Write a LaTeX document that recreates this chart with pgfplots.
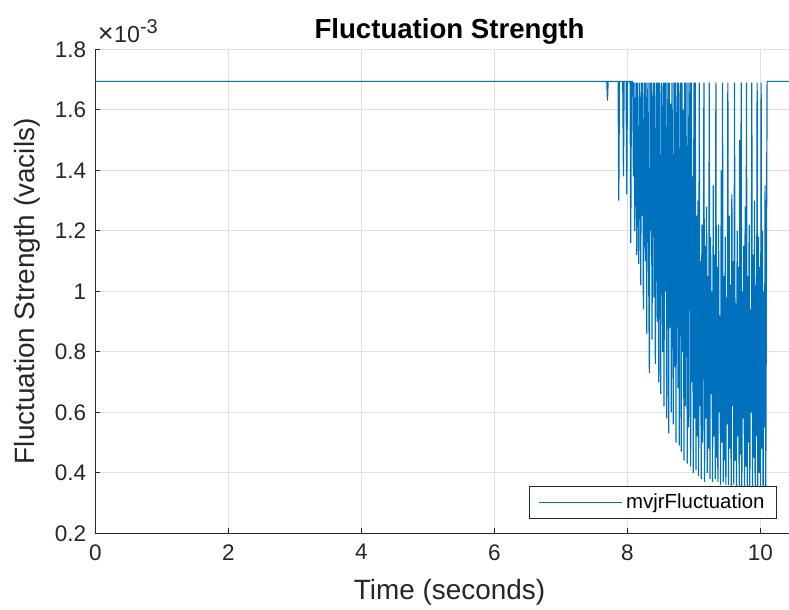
\documentclass[border=0pt]{standalone}
\usepackage{fontspec}
\setmainfont{Liberation Sans}
\usepackage{pgfplots}
\pgfplotsset{compat=1.18}
\definecolor{mblue}{RGB}{0,114,189}
\definecolor{axisgray}{RGB}{38,38,38}
\definecolor{gridc}{RGB}{223,223,223}
\begin{document}
\begin{tikzpicture}
\useasboundingbox (0,0) rectangle (394.5pt,305pt);
\begin{axis}[
  at={(47.65pt,38.35pt)}, anchor=south west,
  scale only axis, width=354.2pt, height=242pt,
  xmin=0, xmax=10.65, ymin=0.2, ymax=1.8,
  clip mode=individual,
  xtick={0,2,4,6,8,10},
  ytick={0.2,0.4,0.6,0.8,1,1.2,1.4,1.6,1.8},
  axis x line*=bottom, axis y line*=left,
  axis line style={-, color=axisgray, line width=0.5pt},
  tick align=inside, major tick length=2.5pt,
  tick style={color=axisgray, line width=0.5pt},
  grid=major, major grid style={color=gridc, line width=0.5pt},
  /pgf/number format/assume math mode=true,
  ticklabel style={font=\fontsize{11.25}{13}\selectfont, text=axisgray},
  xticklabel style={yshift=-2pt},
  yticklabel style={xshift=-1pt},
  title={\textbf{Fluctuation Strength}},
  every axis title/.style={at={(axis description cs:0.5,1)}, anchor=base, yshift=5.5pt, font=\fontsize{13.8}{16}\selectfont},
  xlabel={Time (seconds)},
  xlabel style={at={(axis description cs:0.5,-0.1378)}, anchor=base, font=\fontsize{13.95}{16}\selectfont, text=axisgray},
  ylabel={Fluctuation Strength (vacils)},
  ylabel style={at={(axis description cs:-0.096,0.5)}, anchor=center, font=\fontsize{13.95}{16}\selectfont, text=axisgray},
  legend style={at={(axis description cs:0.9623,0.0295)}, anchor=south east, draw=axisgray, fill=white, line width=0.5pt,
    font=\fontsize{10.2}{12}\selectfont, inner xsep=4pt, inner ysep=1.5pt},
  legend cell align=left,
  legend image code/.code={\draw[#1] (0pt,0pt) -- (41.5pt,0pt);},
]
\addplot[color=mblue, line width=0.6pt] coordinates {
(0,1.694) (7.69,1.694) (7.70,1.63) (7.71,1.694) (7.86,1.694) (7.87,1.30) (7.88,1.694)
(7.93,1.694) (7.94,1.38) (7.95,1.694) (7.98,1.694) (7.99,1.32) (8.00,1.694)
(8.04,1.694) (8.05,1.16) (8.06,1.694) (8.07,1.694)
(8.08,1.69) (8.09,1.38) (8.10,1.69) (8.11,1.20) (8.12,1.55) (8.13,1.69) (8.14,1.12) (8.15,1.69) (8.16,1.30) (8.17,1.09)
(8.18,1.69) (8.19,1.60) (8.20,1.02) (8.21,1.69) (8.22,1.25) (8.23,1.69) (8.24,0.94) (8.25,1.48) (8.26,1.69) (8.27,1.10)
(8.28,1.69) (8.29,0.86) (8.30,1.62) (8.31,1.69) (8.32,1.05) (8.33,0.73) (8.34,1.69) (8.35,1.20) (8.36,1.69) (8.37,0.84)
(8.38,1.58) (8.39,1.69) (8.40,0.98) (8.41,1.69) (8.42,0.76) (8.43,1.40) (8.44,1.69) (8.45,0.90) (8.46,1.69) (8.47,0.70)
(8.48,1.69) (8.49,1.15) (8.50,0.66) (8.51,1.69) (8.52,1.52) (8.53,0.80) (8.54,1.69) (8.55,0.62) (8.56,1.69) (8.57,1.00)
(8.58,1.69) (8.59,0.58) (8.60,1.45) (8.61,1.69) (8.62,0.53) (8.63,1.69) (8.64,0.88) (8.65,1.62) (8.66,0.60) (8.67,1.69)
(8.68,1.30) (8.69,0.56) (8.70,1.69) (8.71,0.75) (8.72,1.69) (8.73,0.50) (8.74,1.55) (8.75,1.69) (8.76,0.68) (8.77,1.69)
(8.78,0.49) (8.79,1.20) (8.80,1.69) (8.81,0.47) (8.82,1.69) (8.83,0.80) (8.84,1.60) (8.85,0.44) (8.86,1.69) (8.87,0.62)
(8.88,1.69) (8.89,1.05) (8.90,0.43) (8.91,1.69) (8.92,0.55) (8.93,1.48) (8.94,1.69) (8.95,0.42) (8.96,1.69) (8.97,0.70)
(8.98,1.38) (8.99,0.40) (9.00,1.69) (9.01,0.58) (9.02,1.69) (9.03,0.41) (9.04,1.25) (9.05,0.52)
(9.06,1.30) (9.07,0.39) (9.08,1.69) (9.09,0.62) (9.10,1.10) (9.11,0.38) (9.12,1.22) (9.13,0.50) (9.14,0.95) (9.15,1.69)
(9.16,0.37) (9.17,1.15) (9.18,0.58) (9.19,1.28) (9.20,0.40) (9.21,1.05) (9.22,0.48) (9.23,1.69) (9.24,0.38) (9.25,1.18)
(9.26,0.66) (9.27,1.00) (9.28,0.37) (9.29,1.35) (9.30,0.52) (9.31,1.12) (9.32,0.38) (9.33,1.69) (9.34,0.45) (9.35,1.08)
(9.36,0.37) (9.37,1.22) (9.38,0.60) (9.39,0.92) (9.40,0.36) (9.41,1.40) (9.42,0.50) (9.43,1.69) (9.44,0.37) (9.45,1.05)
(9.46,0.44) (9.47,1.18) (9.48,0.36) (9.49,0.98) (9.50,0.56) (9.51,1.69) (9.52,0.36) (9.53,1.25) (9.54,0.48) (9.55,1.02)
(9.56,0.35) (9.57,1.32) (9.58,0.62) (9.59,1.10) (9.60,0.36) (9.61,1.69) (9.62,0.44) (9.63,0.96) (9.64,0.35) (9.65,1.20)
(9.66,0.52) (9.67,1.08) (9.68,0.35) (9.69,1.50) (9.70,0.46) (9.71,1.69) (9.72,0.34) (9.73,1.00) (9.74,0.58) (9.75,1.15)
(9.76,0.35) (9.77,1.28) (9.78,0.42) (9.79,1.69) (9.80,0.34) (9.81,1.05) (9.82,0.50) (9.83,1.22) (9.84,0.34) (9.85,0.94)
(9.86,0.60) (9.87,1.69) (9.88,0.33) (9.89,1.12) (9.90,0.45) (9.91,1.30) (9.92,0.34) (9.93,1.02) (9.94,0.52) (9.95,1.69)
(9.96,0.33) (9.97,1.18) (9.98,0.40) (9.99,1.08) (10.00,0.34) (10.01,1.69) (10.02,0.48) (10.03,1.20) (10.04,0.33) (10.05,1.00)
(10.06,0.55) (10.07,1.35) (10.08,0.34) (10.09,1.10) (10.10,1.694) (10.65,1.694)
};
\addlegendentry{mvjrFluctuation}
\node[anchor=base west, inner sep=0pt, text=axisgray] at (axis description cs:0.003,1.015) {{\fontsize{13.5}{14}\selectfont ×}\kern0.3pt{\fontsize{11.6}{13}\selectfont 10}\raisebox{4.5pt}{\fontsize{10}{11}\selectfont -3}};
\end{axis}
\end{tikzpicture}
\end{document}
